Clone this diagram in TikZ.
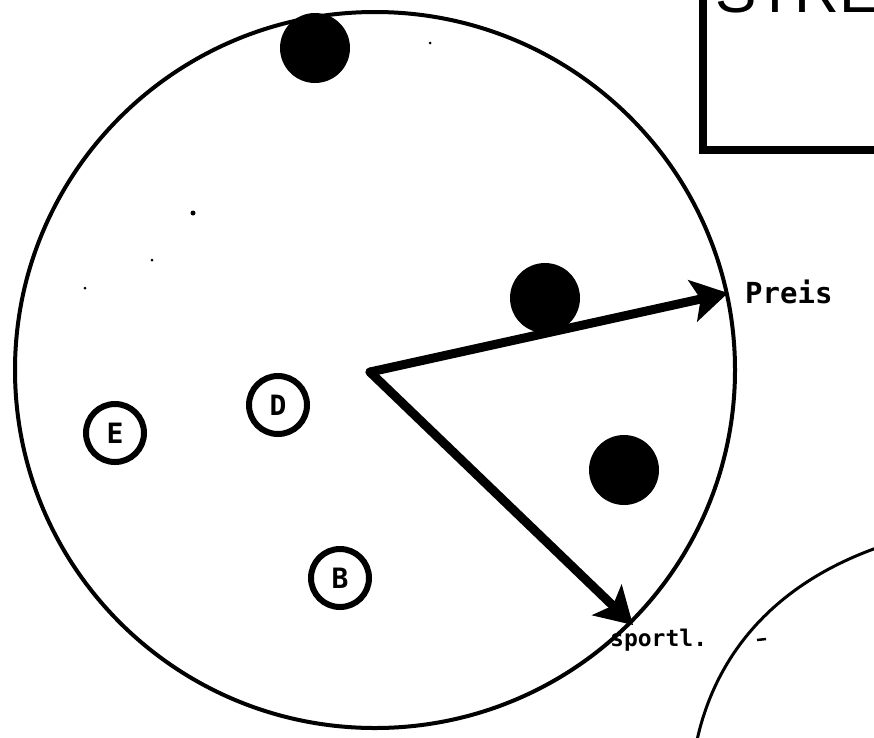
\documentclass[tikz,border=0pt]{standalone}
\usepackage{fontspec}
\setmainfont{Liberation Sans}
\newfontfamily\monob{DejaVu Sans Mono}
\usetikzlibrary{arrows.meta}
\tikzset{
  ring/.style={draw=black, line width=4pt},
  dotf/.style={circle, fill=black, minimum size=70pt, inner sep=0pt},
  letterc/.style={circle, draw=black, line width=6pt, minimum size=58pt, inner sep=0pt, font=\monob\bfseries\fontsize{28}{28}\selectfont},
  vec/.style={line width=9pt, line cap=round, line join=miter, -{Stealth[length=36pt,width=42pt,inset=8pt]}},
  lbl/.style={font=\monob\bfseries\fontsize{23}{23}\selectfont, inner sep=0pt},
  speck/.style={circle, fill=black, inner sep=0pt, minimum size=3pt}
}
\begin{document}
\begin{tikzpicture}[x=1pt,y=-1pt]
\useasboundingbox (0,0) rectangle (874,737);
\clip (0,0) rectangle (874,737);
% big circle
\draw[ring] (375,370) ellipse [x radius=360, y radius=358];
% second circle arc (lower right)
\draw[ring, line width=3pt] (696,745) .. controls (712,665) and (765,585) .. (885,545);
\coordinate (dashA) at (757,640);
\coordinate (dashB) at (766,639);
\draw[line width=2.5pt] (dashA) -- (dashB);
% box top right
\draw[line width=8pt] (703,-20) -- (703,150) -- (900,150);
\node[anchor=base west, inner sep=0pt, font=\fontsize{62}{62}\selectfont] (title) at (715,12) {STRE};
% filled dots
\node[dotf] (d1) at (315,48) {};
\node[dotf] (d2) at (545,298) {};
\node[dotf] (d3) at (624,470) {};
% circled letters
\node[letterc] (E) at (115,433) {E};
\node[letterc] (D) at (278,405) {D};
\node[letterc] (B) at (340,578) {B};
% vectors
\coordinate (o) at (370,372);
\coordinate (tp) at (728,293);
\coordinate (ts) at (633,625);
\draw[vec] (o) -- (tp);
\draw[vec] (o) -- (ts);
% labels
\node[lbl, anchor=west, font=\monob\bfseries\fontsize{29}{29}\selectfont] (preis) at (745,292) {Preis};
\node[lbl, anchor=west] (sport) at (610,640) {sportl.};
% specks
\node[speck, minimum size=5pt] (s1) at (193,213) {};
\node[speck] (s2) at (152,260) {};
\node[speck] (s3) at (85,288) {};
\node[speck] (s4) at (430,43) {};
\end{tikzpicture}
\end{document}
